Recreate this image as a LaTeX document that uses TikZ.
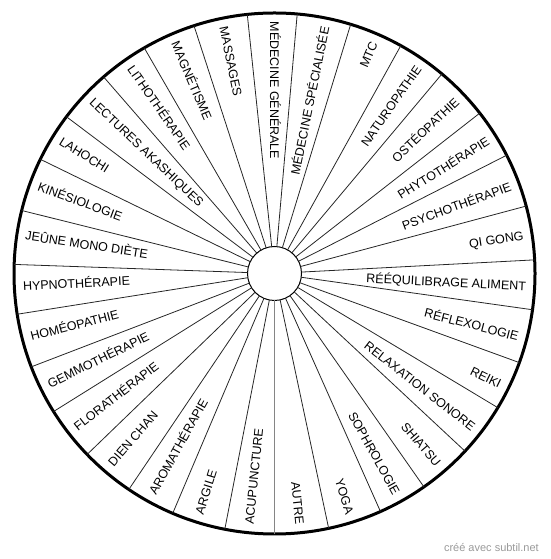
\documentclass[tikz,border=0pt]{standalone}
\usepackage{fontspec}
\setmainfont{Liberation Sans}
\definecolor{zerogrey}{HTML}{858585}
\definecolor{footgrey}{HTML}{9A9A9A}
\tikzset{
  rimline/.style={circle, draw=black, line width=3pt, inner sep=0pt, outer sep=0pt,
                  minimum size=521pt},
  hubline/.style={circle, draw=black, line width=1pt, fill=white, inner sep=0pt,
                  outer sep=0pt, minimum size=54pt},
  spoke/.style={line width=0.8pt, black!85},
  zeroline/.style={line width=1.8pt, zerogrey},
  slot/.style={font=\fontsize{12.5}{15}\selectfont, inner sep=0pt,
               text height=9pt, text depth=0pt},
  credit/.style={font=\fontsize{11}{13}\selectfont, text=footgrey, inner sep=0pt},
}

\begin{document}
\begin{tikzpicture}[x=1pt, y=1pt]
  \useasboundingbox (0,0) rectangle (550,559);

  % ---- Wheel ----
  \node[rimline] (rim) at (274.5,285.5) {};
  \node[hubline] (hub) at (rim.center) {};

  % ---- Spokes ----
  \foreach \k in {1,...,30}{
    \pgfmathsetmacro\a{-90-\k*360/31}
    \draw[spoke] (hub.\a) -- (rim.\a);
  }
  \draw[zeroline] (hub.-90) -- (rim.-90);

  % ---- Labels (clockwise from the bottom) ----
  \foreach \name [count=\i from 0] in {ACUPUNCTURE, ARGILE, AROMATHÉRAPIE, DIEN CHAN,
      FLORATHÉRAPIE, GEMMOTHÉRAPIE, HOMÉOPATHIE, HYPNOTHÉRAPIE, JEÛNE MONO DIÈTE,
      KINÉSIOLOGIE, LAHOCHI, LECTURES AKASHIQUES, LITHOTHÉRAPIE, MAGNÉTISME, MASSAGES,
      MÉDECINE GÉNÉRALE, MÉDECINE SPÉCIALISÉE, MTC, NATUROPATHIE, OSTÉOPATHIE,
      PHYTOTHÉRAPIE, PSYCHOTHÉRAPIE, QI GONG, RÉÉQUILIBRAGE ALIMENT, RÉFLEXOLOGIE,
      REIKI, RELAXATION SONORE, SHIATSU, SOPHROLOGIE, YOGA, AUTRE}{
    \pgfmathsetmacro\c{-90-(\i+0.5)*360/31}
    \pgfmathtruncatemacro\side{cos(\c)>0.01}
    \ifnum\side=1
      \node[slot, anchor=east, rotate=\c] (lbl-\i)
        at ([shift={(\c:252)}]rim.center) {\name};
    \else
      \pgfmathsetmacro\cc{\c+180}
      \node[slot, anchor=west, rotate=\cc] (lbl-\i)
        at ([shift={(\c:252)}]rim.center) {\name};
    \fi
  }

  % ---- Footer ----
  \node[credit, anchor=base east] (footer) at (539,7) {créé avec subtil.net};
\end{tikzpicture}
\end{document}
